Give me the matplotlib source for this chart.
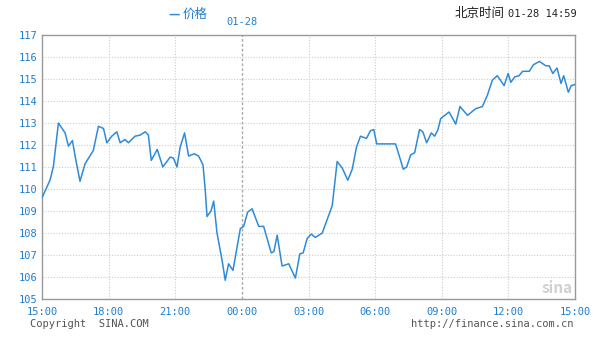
import matplotlib.pyplot as plt

plt.rcParams['font.family'] = ['Noto Sans CJK SC', 'DejaVu Sans']

# hours after 15:00 (01-27) and price
hours = [0.0, 0.36, 0.51, 0.74, 1.04, 1.19, 1.37, 1.49, 1.71, 1.94, 2.31, 2.54, 2.77, 2.92,
         3.14, 3.37, 3.52, 3.74, 3.89, 4.19, 4.42, 4.65, 4.79, 4.92, 5.19, 5.44, 5.77, 5.92,
         6.08, 6.22, 6.42, 6.60, 6.86, 7.05, 7.25, 7.35, 7.43, 7.61, 7.73, 7.88, 8.11, 8.25,
         8.40, 8.60, 8.93, 9.08, 9.26, 9.46, 9.76, 9.98, 10.32, 10.44, 10.59, 10.81, 11.11,
         11.41, 11.61, 11.76, 11.94, 12.12, 12.31, 12.62, 13.07, 13.29, 13.52, 13.77, 13.97,
         14.16, 14.34, 14.61, 14.79, 14.94, 15.07, 15.92, 16.27, 16.42, 16.60, 16.78, 17.00,
         17.15, 17.32, 17.53, 17.68, 17.83, 17.95, 18.33, 18.63, 18.82, 19.16, 19.53, 19.83,
         20.05, 20.28, 20.50, 20.81, 20.99, 21.11, 21.29, 21.48, 21.64, 21.94, 22.13, 22.40,
         22.54, 22.69, 22.84, 23.00, 23.19, 23.37, 23.49, 23.70, 23.83, 24.0]
price = [109.6, 110.4, 111.0, 113.0, 112.55, 111.95, 112.2, 111.5, 110.35, 111.15, 111.75,
         112.85, 112.75, 112.1, 112.4, 112.6, 112.1, 112.25, 112.1, 112.4, 112.45, 112.6,
         112.45, 111.3, 111.8, 111.0, 111.45, 111.4, 111.0, 111.9, 112.55, 111.5, 111.6,
         111.5, 111.1, 109.95, 108.75, 109.0, 109.45, 108.0, 106.75, 105.85, 106.6, 106.3,
         108.2, 108.3, 108.95, 109.1, 108.3, 108.3, 107.1, 107.15, 107.9, 106.5, 106.6,
         105.95, 107.05, 107.1, 107.75, 107.95, 107.8, 108.0, 109.25, 111.25, 110.95, 110.4,
         110.9, 111.9, 112.4, 112.3, 112.65, 112.7, 112.05, 112.05, 110.9, 111.0, 111.55,
         111.65, 112.7, 112.6, 112.1, 112.55, 112.4, 112.7, 113.2, 113.5, 112.95, 113.75,
         113.35, 113.65, 113.75, 114.25, 114.95, 115.15, 114.7, 115.25, 114.85, 115.1,
         115.15, 115.35, 115.35, 115.65, 115.8, 115.7, 115.6, 115.6, 115.25, 115.5, 114.8,
         115.15, 114.4, 114.7, 114.75]

x_ticks = [0, 3, 6, 9, 12, 15, 18, 21, 24]
x_labels = ['15:00', '18:00', '21:00', '00:00', '03:00', '06:00', '09:00', '12:00', '15:00']
y_ticks = list(range(105, 118))

blue = '#2f8ad8'
label_blue = '#1e7fd0'
mono = 'DejaVu Sans Mono'

fig = plt.figure(figsize=(5.97, 3.40), dpi=100)
ax = fig.add_axes([42 / 597, 1 - 299 / 340, 533 / 597, 264 / 340])

# grid
for y in y_ticks[1:-1]:
    ax.axhline(y, color='#cccccc', lw=0.8, ls=(0, (1, 1.5)), zorder=1)
for x in x_ticks[1:-1]:
    if x == 9:
        ax.axvline(x, color='#aaaaaa', lw=1.0, ls=(0, (2, 1.5)), zorder=1)
    else:
        ax.axvline(x, color='#cccccc', lw=0.8, ls=(0, (1, 1.5)), zorder=1)

ax.plot(hours, price, color=blue, lw=1.1, zorder=3)

ax.set_xlim(0, 24)
ax.set_ylim(105, 117)
ax.set_xticks(x_ticks)
ax.set_xticklabels(x_labels, family=mono, fontsize=7.5, color=label_blue)
ax.set_yticks(y_ticks)
ax.set_yticklabels([str(v) for v in y_ticks], family=mono, fontsize=7.5, color=label_blue)
ax.tick_params(axis='y', length=0, pad=3)
ax.tick_params(axis='x', length=0, pad=6)
for s in ax.spines.values():
    s.set_color('#999999')
    s.set_linewidth(1.0)

# texts
ax.text(9, 117.35, '01-28', ha='center', va='bottom', family=mono, fontsize=7.5, color=label_blue)
fig.text(168 / 597, 1 - 14 / 340, '—', ha='left', va='center', fontsize=9, color=blue,
         fontweight='bold')
fig.text(183 / 597, 1 - 14 / 340, '价格', ha='left', va='center', fontsize=9, color=label_blue)
fig.text(505 / 597, 1 - 14 / 340, '北京时间', ha='right', va='center', fontsize=9, color='#222222')
fig.text(508 / 597, 1 - 14 / 340, '01-28 14:59', ha='left', va='center', family=mono,
         fontsize=7.5, color='#222222')
fig.text(30 / 597, 1 - 324 / 340, 'Copyright  SINA.COM', ha='left', va='center', family=mono,
         fontsize=7.5, color='#555555')
fig.text(573 / 597, 1 - 324 / 340, 'http://finance.sina.com.cn', ha='right', va='center',
         family=mono, fontsize=7.5, color='#555555')
ax.text(0.995, 0.01, 'sina', transform=ax.transAxes, ha='right', va='bottom', fontsize=11,
        fontstyle='italic', fontweight='bold', color='#d0d0d0', zorder=2)

fig.savefig('out.png', dpi=100)
